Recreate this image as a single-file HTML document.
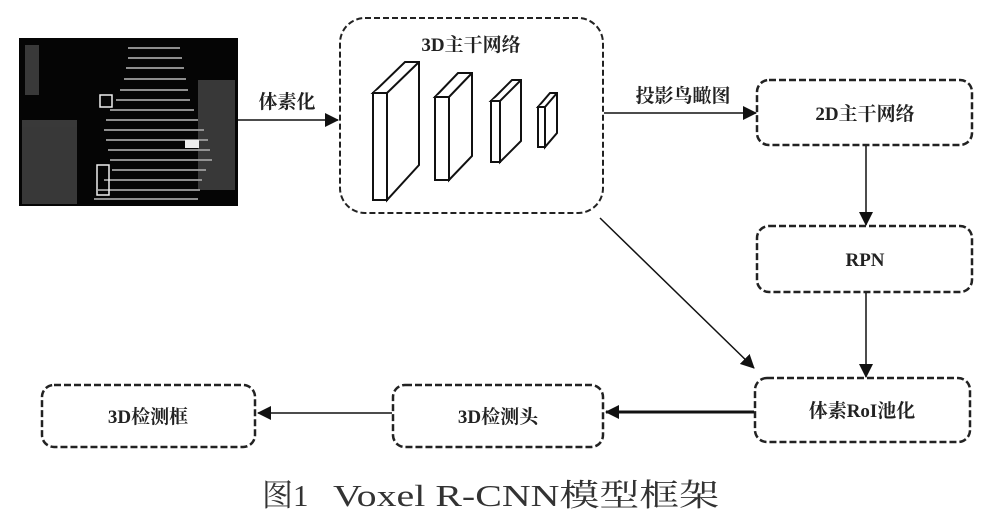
<!DOCTYPE html>
<html><head><meta charset="utf-8"><style>
html,body{margin:0;padding:0;background:#fff;}
svg{display:block;}
.t{font-family:"Liberation Serif","Noto Serif CJK SC",serif;font-weight:bold;font-size:19px;fill:#222;}
</style></head><body>
<svg width="981" height="524" viewBox="0 0 981 524" xmlns="http://www.w3.org/2000/svg">
<defs>
<marker id="b" markerWidth="14" markerHeight="14" refX="13" refY="7" orient="auto" markerUnits="userSpaceOnUse"><path d="M0,0 L14,7 L0,14 z" fill="#111"/></marker>
</defs>
<!-- point cloud -->
<rect x="19" y="38" width="219" height="168" fill="#050505"/>
<g stroke="#ddd" stroke-width="1.6" opacity="0.85">
<line x1="128" y1="48" x2="180" y2="48"/><line x1="128" y1="58" x2="182" y2="58"/><line x1="126" y1="68" x2="184" y2="68"/>
<line x1="124" y1="79" x2="186" y2="79"/><line x1="120" y1="90" x2="188" y2="90"/><line x1="116" y1="100" x2="190" y2="100"/>
<line x1="110" y1="110" x2="194" y2="110"/><line x1="106" y1="120" x2="198" y2="120"/><line x1="104" y1="130" x2="204" y2="130"/>
<line x1="106" y1="140" x2="208" y2="140"/><line x1="108" y1="150" x2="210" y2="150"/><line x1="110" y1="160" x2="212" y2="160"/>
<line x1="112" y1="170" x2="206" y2="170"/><line x1="104" y1="180" x2="202" y2="180"/><line x1="98" y1="190" x2="200" y2="190"/>
<line x1="94" y1="199" x2="198" y2="199"/>
</g>
<g fill="#999" opacity="0.35">
<rect x="22" y="120" width="55" height="84"/><rect x="198" y="80" width="37" height="110"/><rect x="25" y="45" width="14" height="50"/>
</g>
<rect x="100" y="95" width="12" height="12" fill="none" stroke="#eee" stroke-width="1.5"/>
<rect x="97" y="165" width="12" height="30" fill="none" stroke="#eee" stroke-width="1.5"/>
<rect x="185" y="140" width="14" height="8" fill="#eee"/>
<!-- 3D backbone -->
<rect x="340" y="18" width="263" height="195" rx="25" fill="none" stroke="#222" stroke-width="2" stroke-dasharray="6,3"/>
<text class="t" x="471" y="51" text-anchor="middle">3D主干网络</text>
<g fill="#fff" stroke="#111" stroke-width="2" stroke-linejoin="miter">
<path d="M373,93 L405,62 L419,62 L419,165 L387,200 L387,93 Z"/><path d="M373,93 L387,93 L419,62"/><rect x="373" y="93" width="14" height="107"/>
<path d="M435,97 L458,73 L472,73 L472,156 L449,180 L449,97 Z"/><path d="M435,97 L449,97 L472,73"/><rect x="435" y="97" width="14" height="83"/>
<path d="M491,101 L512,80 L521,80 L521,141 L500,162 L500,101 Z"/><path d="M491,101 L500,101 L521,80"/><rect x="491" y="101" width="9" height="61"/>
<path d="M538,107 L550,93 L557,93 L557,133 L545,147 L545,107 Z"/><path d="M538,107 L545,107 L557,93"/><rect x="538" y="107" width="7" height="40"/>
</g>
<!-- boxes -->
<g fill="none" stroke="#222" stroke-width="2.5" stroke-dasharray="7,3">
<rect x="757" y="80" width="215" height="65" rx="12"/>
<rect x="757" y="226" width="215" height="66" rx="12"/>
<rect x="755" y="378" width="215" height="64" rx="12"/>
<rect x="393" y="385" width="210" height="62" rx="12"/>
<rect x="42" y="385" width="213" height="62" rx="12"/>
</g>
<text class="t" x="865" y="120" text-anchor="middle">2D主干网络</text>
<text class="t" x="865" y="266" text-anchor="middle">RPN</text>
<text class="t" x="862" y="417" text-anchor="middle">体素RoI池化</text>
<text class="t" x="498" y="423" text-anchor="middle">3D检测头</text>
<text class="t" x="148" y="423" text-anchor="middle">3D检测框</text>
<!-- labels -->
<text class="t" x="287" y="108" text-anchor="middle">体素化</text>
<text class="t" x="683" y="102" text-anchor="middle">投影鸟瞰图</text>
<!-- arrows -->
<g stroke="#111" fill="none">
<line x1="238" y1="120" x2="338" y2="120" stroke-width="1.5" marker-end="url(#b)"/>
<line x1="604" y1="113" x2="756" y2="113" stroke-width="1.5" marker-end="url(#b)"/>
<line x1="866" y1="146" x2="866" y2="225" stroke-width="1.5" marker-end="url(#b)"/>
<line x1="866" y1="293" x2="866" y2="377" stroke-width="1.5" marker-end="url(#b)"/>
<line x1="600" y1="218" x2="754" y2="368" stroke-width="1.5" marker-end="url(#b)"/>
<line x1="754" y1="412" x2="606" y2="412" stroke-width="3" marker-end="url(#b)"/>
<line x1="392" y1="413" x2="258" y2="413" stroke-width="1.5" marker-end="url(#b)"/>
</g>
<text x="262" y="506" style="font-family:'Liberation Serif','Noto Serif CJK SC',serif;font-size:31px;fill:#333;">图1</text>
<text x="333" y="506" textLength="386" lengthAdjust="spacingAndGlyphs" style="font-family:'Liberation Serif','Noto Serif CJK SC',serif;font-size:31px;fill:#333;">Voxel R-CNN模型框架</text>
</svg>
</body></html>
